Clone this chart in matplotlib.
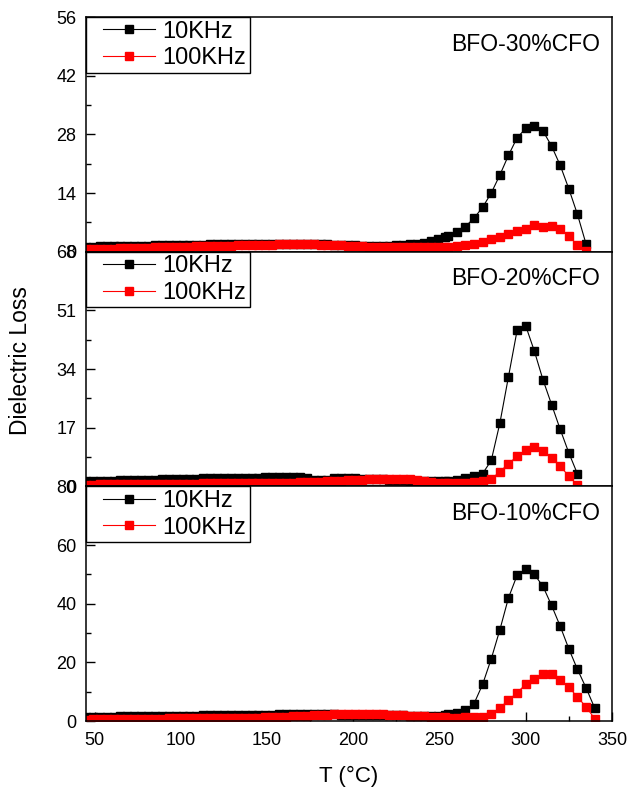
import matplotlib
matplotlib.use('Agg')
import matplotlib.pyplot as plt
from matplotlib.ticker import MultipleLocator
from matplotlib.legend_handler import HandlerLine2D

plt.rcParams['font.family'] = ['Liberation Sans', 'DejaVu Sans']

# temperatures (C): dense sweep at low T, 5 C steps above 255
t_low = [45, 49, 53, 57, 61, 65, 69, 73, 77, 81,
         85, 89, 93, 97, 101, 105, 109, 113, 117, 121,
         125, 129, 133, 137, 141, 145, 149, 153, 157, 161,
         165, 169, 173, 177, 181, 185, 189, 193, 197, 201,
         205, 209, 213, 217, 221, 225, 229, 233, 237, 241,
         245, 249, 253]
t_high_30 = [255, 260, 265, 270, 275, 280, 285, 290, 295, 300, 305, 310, 315, 320, 325, 330, 335]
t_high_20 = [255, 260, 265, 270, 275, 280, 285, 290, 295, 300, 305, 310, 315, 320, 325, 330]
t_high_10 = [255, 260, 265, 270, 275, 280, 285, 290, 295, 300, 305, 310, 315, 320, 325, 330, 335, 340]

# BFO-30%CFO
loss30_10k = [1.20, 1.23, 1.26, 1.29, 1.32, 1.35, 1.38, 1.41, 1.44, 1.47,
              1.50, 1.53, 1.56, 1.59, 1.62, 1.65, 1.68, 1.70, 1.72, 1.74,
              1.76, 1.78, 1.80, 1.82, 1.84, 1.86, 1.88, 1.89, 1.90, 1.90,
              1.90, 1.88, 1.85, 1.82, 1.78, 1.73, 1.68, 1.62, 1.56, 1.50,
              1.46, 1.43, 1.42, 1.43, 1.47, 1.55, 1.66, 1.78, 1.92, 2.08,
              2.50, 3.00, 3.45,
              3.8, 4.7, 6.0, 8.0, 10.6, 14.0, 18.3, 23.0, 27.2, 29.4, 30.0, 28.8, 25.2, 20.6, 15.0, 8.9, 1.8]
loss30_100k = [0.60, 0.64, 0.68, 0.72, 0.76, 0.80, 0.84, 0.88, 0.92, 0.96,
               1.00, 1.04, 1.08, 1.12, 1.16, 1.20, 1.24, 1.28, 1.32, 1.36,
               1.40, 1.44, 1.48, 1.52, 1.56, 1.60, 1.65, 1.70, 1.75, 1.80,
               1.82, 1.82, 1.80, 1.76, 1.70, 1.64, 1.58, 1.50, 1.42, 1.35,
               1.28, 1.22, 1.18, 1.14, 1.12, 1.10, 1.08, 1.08, 1.08, 1.08,
               1.10, 1.12, 1.15,
               1.2, 1.35, 1.5, 1.8, 2.4, 3.0, 3.6, 4.2, 5.0, 5.5, 6.3, 6.0, 6.2, 5.3, 3.8, 1.5, 0.1]

# BFO-20%CFO
loss20_10k = [1.45, 1.50, 1.55, 1.60, 1.65, 1.70, 1.75, 1.80, 1.85, 1.90,
              1.95, 2.00, 2.05, 2.10, 2.15, 2.20, 2.25, 2.30, 2.35, 2.40,
              2.42, 2.45, 2.48, 2.50, 2.52, 2.55, 2.57, 2.58, 2.60, 2.60,
              2.60, 2.60, 2.55, 1.90, 1.90, 1.95, 2.30, 2.30, 2.30, 2.30,
              2.25, 2.20, 2.10, 2.00, 1.90, 1.80, 1.70, 1.65, 1.60, 1.55,
              1.50, 1.50, 1.55,
              1.6, 1.9, 2.3, 2.9, 3.7, 7.5, 18.3, 31.8, 45.2, 46.5, 39.2, 30.9, 23.7, 16.5, 9.7, 3.6]
loss20_100k = [0.50, 0.52, 0.54, 0.56, 0.58, 0.60, 0.62, 0.64, 0.66, 0.68,
               0.70, 0.72, 0.74, 0.76, 0.78, 0.80, 0.82, 0.84, 0.86, 0.88,
               0.90, 0.92, 0.94, 0.96, 0.98, 1.00, 1.00, 1.02, 1.04, 1.06,
               1.10, 1.15, 1.20, 1.28, 1.36, 1.45, 1.55, 1.65, 1.75, 1.85,
               1.95, 2.05, 2.12, 2.18, 2.20, 2.20, 2.15, 2.05, 1.85, 1.60,
               1.30, 1.10, 1.00,
               1.0, 1.0, 1.05, 1.2, 1.5, 2.2, 4.2, 6.6, 8.7, 10.6, 11.4, 10.2, 8.3, 5.8, 3.0, 0.3]

# BFO-10%CFO
loss10_10k = [1.40, 1.43, 1.46, 1.49, 1.52, 1.55, 1.58, 1.61, 1.64, 1.67,
              1.70, 1.73, 1.76, 1.79, 1.82, 1.85, 1.88, 1.91, 1.94, 1.97,
              2.00, 2.03, 2.06, 2.09, 2.12, 2.15, 2.18, 2.21, 2.24, 2.27,
              2.30, 2.30, 2.30, 2.30, 2.28, 2.26, 2.24, 2.22, 2.20, 2.18,
              2.15, 2.12, 2.08, 2.04, 2.00, 1.96, 1.92, 1.88, 1.84, 1.80,
              1.80, 1.85, 2.00,
              2.3, 2.9, 3.7, 5.9, 12.5, 21.2, 31.1, 42.0, 49.7, 51.8, 50.0, 45.9, 39.4, 32.3, 24.6, 17.6, 11.3, 4.4]
loss10_100k = [0.50, 0.53, 0.56, 0.59, 0.62, 0.65, 0.68, 0.71, 0.74, 0.77,
               0.80, 0.83, 0.86, 0.89, 0.92, 0.95, 0.98, 1.01, 1.04, 1.07,
               1.10, 1.12, 1.14, 1.16, 1.18, 1.20, 1.25, 1.32, 1.40, 1.50,
               1.60, 1.72, 1.84, 1.96, 2.08, 2.18, 2.26, 2.32, 2.36, 2.38,
               2.38, 2.36, 2.32, 2.26, 2.18, 2.08, 1.96, 1.82, 1.68, 1.55,
               1.42, 1.32, 1.25,
               1.2, 1.2, 1.25, 1.3, 1.5, 2.5, 4.5, 7.1, 9.7, 12.5, 14.3, 15.9, 15.9, 14.0, 11.5, 8.2, 4.8, 0.8]

panels = [
    ('BFO-30%CFO', t_low + t_high_30, loss30_10k, loss30_100k, 56, 14),
    ('BFO-20%CFO', t_low + t_high_20, loss20_10k, loss20_100k, 68, 17),
    ('BFO-10%CFO', t_low + t_high_10, loss10_10k, loss10_100k, 80, 20),
]


class IndentHandler(HandlerLine2D):
    # Origin-style legend: blank gap before the line sample
    def create_artists(self, legend, orig_handle, xdescent, ydescent, width, height, fontsize, trans):
        off = 13.5 * 72 / 100.0
        return super().create_artists(legend, orig_handle, xdescent - off, ydescent,
                                      width - off, height, fontsize, trans)


fig = plt.figure(figsize=(6.29, 7.88), dpi=100)

left, width = 0.1367, 0.8362
h = 0.2978
bottoms = [0.085 + 2 * h, 0.085 + h, 0.085]

for i, (name, t, y10, y100, ymax, ystep) in enumerate(panels):
    ax = fig.add_axes([left, bottoms[i], width, h])
    l1, = ax.plot(t, y10, color='black', lw=0.8, marker='s', ms=6.0, mec='black', mfc='black', label='10KHz')
    l2, = ax.plot(t, y100, color='red', lw=0.8, marker='s', ms=6.0, mec='red', mfc='red', label='100KHz')

    ax.set_xlim(45, 350)
    ax.set_ylim(0, ymax)
    ax.yaxis.set_major_locator(MultipleLocator(ystep))
    ax.yaxis.set_minor_locator(MultipleLocator(ystep / 2))
    ax.xaxis.set_major_locator(MultipleLocator(50))
    ax.xaxis.set_minor_locator(MultipleLocator(25))

    for s in ax.spines.values():
        s.set_linewidth(1.1)

    ax.tick_params(axis='y', which='both', direction='in', left=True, right=False, labelsize=13, pad=7, width=1.0)
    ax.tick_params(axis='y', which='major', length=6.5)
    ax.tick_params(axis='y', which='minor', length=3.5)
    if i < 2:
        ax.tick_params(axis='x', which='both', bottom=False, labelbottom=False)
    else:
        ax.tick_params(axis='x', which='both', direction='in', top=False, labelsize=13, pad=8, width=1.0)
        ax.tick_params(axis='x', which='major', length=6.5)
        ax.tick_params(axis='x', which='minor', length=3.5)
        ax.set_xlabel('T (°C)', fontsize=16, labelpad=12)

    leg = ax.legend(loc='upper left', fontsize=17, frameon=True, fancybox=False,
                    edgecolor='black', framealpha=1, borderaxespad=0, borderpad=0.15,
                    labelspacing=0.2, handlelength=2.78, handletextpad=0.3,
                    handler_map={l1: IndentHandler(), l2: IndentHandler()})
    leg.get_frame().set_linewidth(1.0)

    ax.text(0.977, 0.885, name, transform=ax.transAxes, ha='right', va='center', fontsize=16.5)

fig.text(0.032, 0.542, 'Dielectric Loss', rotation=90, ha='center', va='center', fontsize=16.5)

plt.savefig('out.png', dpi=100)
